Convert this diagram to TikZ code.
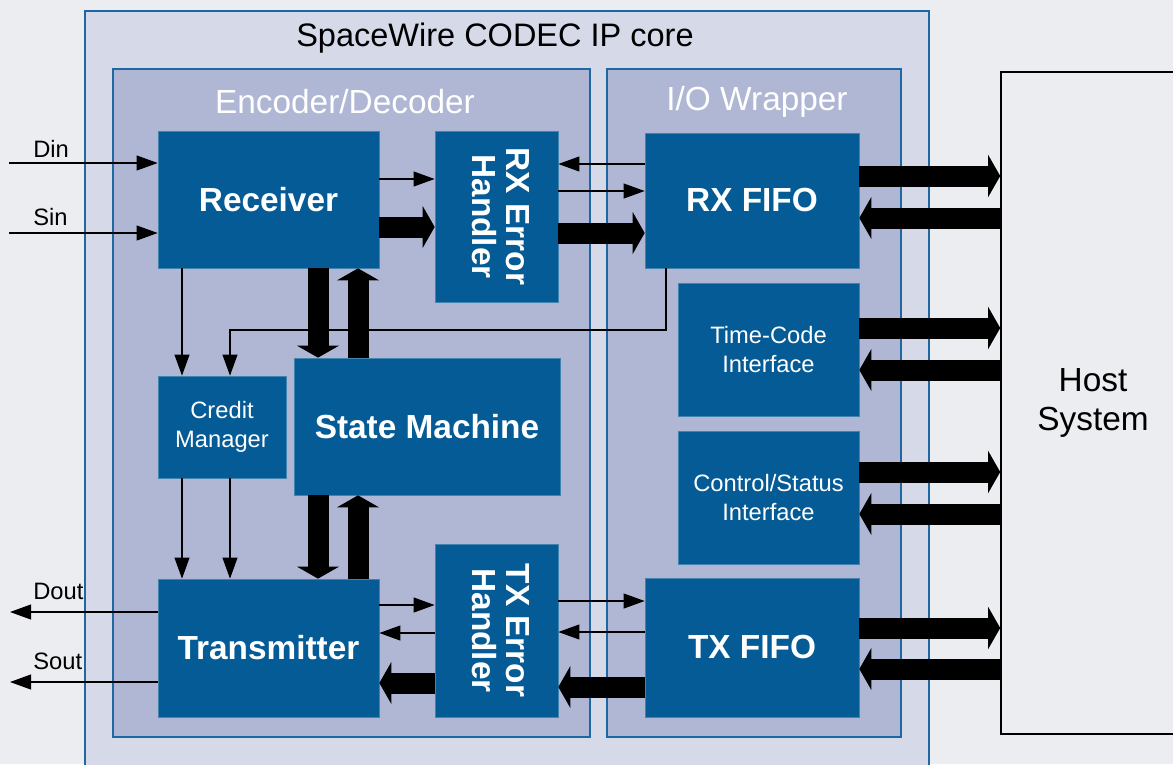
\documentclass[tikz,border=0pt]{standalone}
\usepackage{fontspec}
\setmainfont{Liberation Sans}
\usetikzlibrary{arrows.meta,positioning}
\definecolor{bgpage}{HTML}{ECEDF0}
\definecolor{corefill}{HTML}{D5D9E8}
\definecolor{subfill}{HTML}{AFB7D4}
\definecolor{edgeblue}{HTML}{1E67A3}
\definecolor{blockblue}{HTML}{045B95}
\newcommand{\vtext}[1]{\rotatebox{-90}{\begin{tabular}{@{}c@{}}#1\end{tabular}}}

\begin{document}
\begin{tikzpicture}[x=0.02cm,y=-0.02cm,
  blk/.style={fill=blockblue,draw=blockblue!75!white,line width=0.4pt,text=white,inner sep=0pt},
  big/.style={blk,font=\fontsize{19}{19}\selectfont\bfseries},
  small/.style={blk,font=\fontsize{13.5}{16.3}\selectfont,align=center},
  box/.style={draw=edgeblue,line width=1.1pt,fill=subfill},
  title/.style={text=white,font=\fontsize{19}{19}\selectfont},
  pin/.style={anchor=west,inner sep=0pt,font=\fontsize{13.5}{16}\selectfont},
  sig/.style={line width=0.75pt,-{Triangle[length=12pt,width=8.5pt]}},
  bus/.style={line width=0.42cm,-{Triangle[length=0.24cm,width=0.84cm,line width=0pt]}}]
\useasboundingbox (0,0) rectangle (1173,764);
\fill[bgpage] (0,0) rectangle (1173,764);
\draw[box,fill=corefill] (85,11) rectangle (929,800);
\node[font=\fontsize{18.5}{18.5}\selectfont] (core) at (495,38) {SpaceWire CODEC IP core};
\draw[box] (113,69) rectangle (590,737);
\draw[box] (607,69) rectangle (901,737);
\node[title] (encdec) at (345,102) {Encoder/Decoder};
\node[title] (iow) at (757,102) {I/O Wrapper};
\node[draw=black,line width=0.9pt,fill=bgpage,minimum width=3.68cm,minimum height=13.24cm,
  align=center,font=\fontsize{19}{22.7}\selectfont] (host) at (1093,403) {Host\\System};

\node[big,minimum width=4.42cm,minimum height=2.74cm] (rx) at (268.5,199.5) {Receiver};
\node[big,minimum width=2.46cm,minimum height=3.42cm] (rxeh) at (496.5,216.5) {\vtext{RX Error\\Handler}};
\node[big,minimum width=4.28cm,minimum height=2.70cm] (rxf) at (752,200.5) {RX FIFO};
\node[small,minimum width=3.62cm,minimum height=2.66cm] (tc) at (768.5,349.5) {Time-Code\\Interface};
\node[small,minimum width=3.62cm,minimum height=2.66cm] (cs) at (768.5,497.5) {Control/Status\\Interface};
\node[big,minimum width=4.28cm,minimum height=2.78cm] (txf) at (752,647.5) {TX FIFO};
\node[small,minimum width=2.56cm,minimum height=2.04cm] (cm) at (222,427) {Credit\\Manager};
\node[big,minimum width=5.32cm,minimum height=2.74cm] (sm) at (427,426.5) {State Machine};
\node[big,minimum width=4.42cm,minimum height=2.76cm] (tx) at (268.5,648) {Transmitter};
\node[big,minimum width=2.46cm,minimum height=3.46cm] (txeh) at (496.5,630.5) {\vtext{TX Error\\Handler}};

\coordinate (din) at (9,163);
\coordinate (sin) at (9,233);
\coordinate (dout) at (10,612);
\coordinate (sout) at (10,682);
\node[pin] (l-din) at (33,149) {Din};
\node[pin] (l-sin) at (33,217) {Sin};
\node[pin] (l-dout) at (33,591) {Dout};
\node[pin] (l-sout) at (33,661) {Sout};
\draw[sig] (din) -- (rx.west |- din);
\draw[sig] (sin) -- (rx.west |- sin);
\draw[sig] (tx.west |- dout) -- (dout);
\draw[sig] (tx.west |- sout) -- (sout);

\draw[sig] (rx.east |- 0,179) -- (rxeh.west |- 0,179);
\draw[bus] (rx.east |- 0,227) -- (rxeh.west |- 0,227);
\draw[sig] (rxf.west |- 0,164) -- (rxeh.east |- 0,164);
\draw[sig] (rxeh.east |- 0,191) -- (rxf.west |- 0,191);
\draw[bus] (rxeh.east |- 0,233) -- (rxf.west |- 0,233);

\draw[sig] (rx.south -| 182,0) -- (cm.north -| 182,0);
\draw[sig] (rxf.south -| 666,0) |- (230,330) -- (cm.north -| 230,0);
\foreach \x in {182,230} \draw[sig] (cm.south -| \x,0) -- (tx.north -| \x,0);

\draw[bus] (rx.south -| 318,0) -- (sm.north -| 318,0);
\draw[bus] (sm.north -| 358,0) -- (rx.south -| 358,0);
\draw[bus] (sm.south -| 318,0) -- (tx.north -| 318,0);
\draw[bus] (tx.north -| 358,0) -- (sm.south -| 358,0);

\draw[sig] (tx.east |- 0,605) -- (txeh.west |- 0,605);
\draw[sig] (txeh.west |- 0,633) -- (tx.east |- 0,633);
\draw[bus] (txeh.west |- 0,683) -- (tx.east |- 0,683);
\draw[sig] (txeh.east |- 0,601) -- (txf.west |- 0,601);
\draw[sig] (txf.west |- 0,632) -- (txeh.east |- 0,632);
\draw[bus] (txf.west |- 0,687) -- (txeh.east |- 0,687);

\foreach \n/\a/\b in {rxf/176/218,tc/328/370,cs/472/514,txf/628/669}{
  \draw[bus] (\n.east |- 0,\a) -- (host.west |- 0,\a);
  \draw[bus] (host.west |- 0,\b) -- (\n.east |- 0,\b);}
\end{tikzpicture}
\end{document}
